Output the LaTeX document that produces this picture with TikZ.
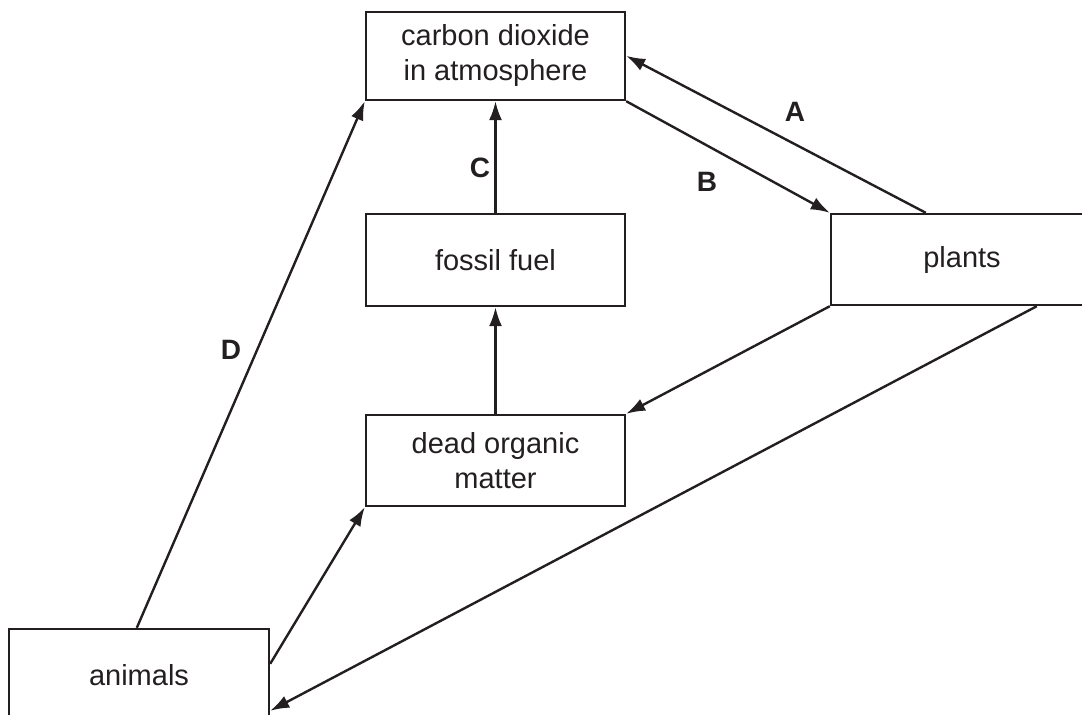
\documentclass[tikz,border=0pt]{standalone}
\usepackage{fontspec}
\setmainfont{Liberation Sans}
\usetikzlibrary{arrows.meta,calc}
\definecolor{ink}{HTML}{231F20}
\tikzset{
  box/.style={draw=ink, line width=2.4pt, rectangle, minimum width=259pt, inner sep=0pt,
    align=center, font=\fontsize{29}{35}\selectfont, text=ink},
  conn/.style={draw=ink, line width=2.4pt, -{Latex[length=19pt,width=13pt]}},
  lab/.style={font=\fontsize{28}{34}\selectfont\bfseries, text=ink, inner sep=0pt}
}
\begin{document}
\begin{tikzpicture}[x=1pt,y=-1pt]
\useasboundingbox (0,0) rectangle (1082,715);
\node[box, minimum height=88pt] (co2) at (495.5,56) {carbon dioxide\\in atmosphere};
\node[box, minimum height=92pt] (fossil) at (495.5,260) {fossil fuel};
\node[box, minimum height=91pt, minimum width=262pt] (plants) at (962,259.5) {plants};
\node[box, minimum height=91pt] (dead) at (495.5,460.5) {dead organic\\matter};
\node[box, minimum height=92pt, minimum width=260pt] (animals) at (139,675) {animals};

\coordinate (aS) at ($(plants.north west)+(96,0)$);
\coordinate (aE) at ($(co2.north east)+(0,45)$);
\coordinate (pB) at ($(plants.south west)+(207,0)$);
\coordinate (anR) at ($(animals.north east)+(0,83)$);
\coordinate (anM) at ($(animals.north east)+(0,36)$);
\coordinate (anT) at ($(animals.north west)+(129,0)$);

\draw[conn] (aS) -- (aE);
\draw[conn] (co2.south east) -- (plants.north west);
\draw[conn] (fossil.north) -- (co2.south);
\draw[conn] (dead.north) -- (fossil.south);
\draw[conn] (plants.south west) -- (dead.north east);
\draw[conn] (pB) -- (anR);
\draw[conn] (anM) -- (dead.south west);
\draw[conn] (anT) -- (co2.south west);

\node[lab] (la) at (795,112) {A};
\node[lab] (lb) at (707,182) {B};
\node[lab] (lc) at (480,168) {C};
\node[lab] (ld) at (231,350) {D};
\end{tikzpicture}
\end{document}
